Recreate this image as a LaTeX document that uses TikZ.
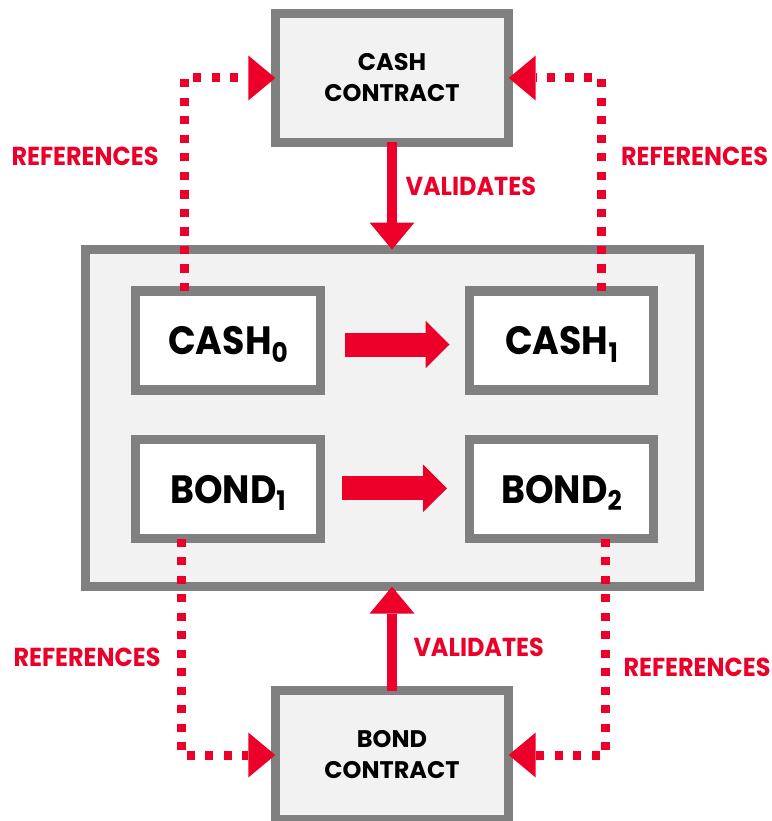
\documentclass[tikz,border=0pt]{standalone}
\usepackage{fontspec}
\newfontfamily\diagfont[FakeStretch=0.92]{Poppins}
\newfontfamily\boxfont{Poppins}
\usetikzlibrary{arrows.meta}
\definecolor{refred}{RGB}{236,0,41}
\definecolor{boxgray}{RGB}{128,128,128}
\definecolor{panel}{RGB}{242,242,242}
% lowered state index, kept out of the box height
\newcommand{\subidx}[1]{\raisebox{-7.7pt}[0pt][0pt]{\fontsize{27}{27}\selectfont #1}}
\begin{document}
\begin{tikzpicture}[x=1pt,y=-1pt,
  box/.style={draw=boxgray, line width=9.2pt, inner sep=0pt, outer sep=0pt, rectangle},
  contract/.style={box, fill=panel, minimum width=233.4pt, minimum height=129pt,
    align=center, font=\boxfont\bfseries\fontsize{24}{31}\selectfont},
  ledger/.style={box, fill=panel, minimum width=613.9pt, minimum height=337.2pt},
  statebox/.style={box, fill=white, minimum width=184.6pt, minimum height=99pt,
    font=\diagfont\bfseries\fontsize{39.5}{40}\selectfont},
  lbl/.style={text=refred, inner sep=0pt, font=\diagfont\bfseries\fontsize{26}{26}\selectfont},
  blockarrow/.style={draw=refred, line width=24pt,
    -{Triangle[length=24pt,width=47.6pt,line width=0pt]}},
  valarrow/.style={draw=refred, line width=9.4pt,
    -{Triangle[length=27pt,width=45pt,line width=0pt]}},
  refline/.style={draw=refred, line width=9pt, dash pattern=on 8.3pt off 10.2pt,
    -{Triangle[length=27pt,width=45pt,line width=0pt]}}
]
\useasboundingbox (0,0) rectangle (771,821);

% transaction panel with input and output states
\node[ledger] (tx) at (392.25,418.1) {};
\node[statebox] (cash0) at (228,340.5) {CASH\subidx{0}};
\node[statebox] (cash1) at (561.5,340.5) {CASH\subidx{1}};
\node[statebox] (bond1) at (228,489.1) {BOND\subidx{1}};
\node[statebox] (bond2) at (561.5,489.1) {BOND\subidx{2}};

% contracts
\node[contract] (cashc) at (392,78) {CASH\\CONTRACT};
\node[contract] (bondc) at (392,755) {BOND\\CONTRACT};

% state transitions
\draw[blockarrow, shorten <=24.7pt, shorten >=19.7pt]
  ([yshift=-4pt]cash0.east) -- ([yshift=-4pt]cash1.west);
\draw[blockarrow, shorten <=21.7pt, shorten >=22.2pt]
  ([yshift=0.8pt]bond1.east) -- ([yshift=0.8pt]bond2.west);

% validation
\draw[valarrow] (cashc.south) -- (tx.north -| cashc.south);
\draw[valarrow] (bondc.north) -- (tx.south -| bondc.north);

% references from states to contracts
\draw[refline] ([xshift=-44pt]cash0.north) |- (cashc.west);
\draw[refline] ([xshift=39.5pt]cash1.north) |- (cashc.east);
\draw[refline] ([xshift=-47pt]bond1.south) |- (bondc.west);
\draw[refline] ([xshift=44pt]bond2.south) |- (bondc.east);

% labels
\node[lbl] (refTL) at (85,156) {REFERENCES};
\node[lbl] (refTR) at (694.5,156) {REFERENCES};
\node[lbl] (refBL) at (87,657.5) {REFERENCES};
\node[lbl] (refBR) at (697,667) {REFERENCES};
\node[lbl] (valT) at (470.8,186.8) {VALIDATES};
\node[lbl] (valB) at (478.7,647.8) {VALIDATES};
\end{tikzpicture}
\end{document}
